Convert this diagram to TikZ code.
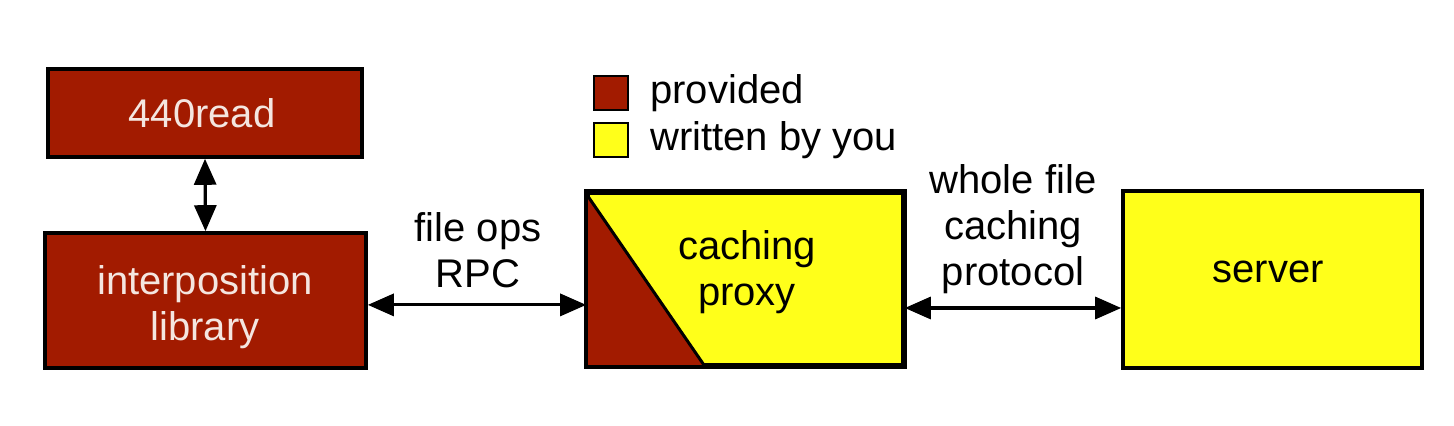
\documentclass[tikz,border=0pt]{standalone}
\usepackage{fontspec}
\setmainfont{Liberation Sans}
\usetikzlibrary{arrows.meta,calc}
\definecolor{provred}{HTML}{A21B00}
\definecolor{youyellow}{HTML}{FFFF1A}
\definecolor{lighttext}{HTML}{F4E6E0}
\begin{document}
\begin{tikzpicture}[x=0.5pt,y=-0.5pt,
  box/.style={draw=black,line width=1.8pt,inner sep=0pt},
  redbox/.style={box,fill=provred},
  yelbox/.style={box,fill=youyellow},
  lbl/.style={font=\fontsize{20}{23}\selectfont,align=center,inner sep=0pt},
  arr/.style={line width=1.6pt,{Triangle[length=13pt,width=11pt]}-{Triangle[length=13pt,width=11pt]}},
  legsq/.style={draw=black,line width=1.3pt,minimum width=17pt,minimum height=17pt,inner sep=0pt}]
\useasboundingbox (0,0) rectangle (1454,426);
% boxes
\node[redbox,minimum width=157pt,minimum height=44pt] (read) at (205,113) {};
\node[lbl,text=lighttext] (readt) at (202,113) {440read};
\node[redbox,minimum width=160.5pt,minimum height=67.5pt] (lib) at (205.5,300.5) {};
\node[lbl,text=lighttext] (libt) at (205,307) {interposition\\library};
\node[yelbox,minimum width=157.5pt,minimum height=86pt] (proxy) at (745.5,279) {};
\fill[provred] ([shift={(1,4)}]proxy.north west) -- (proxy.south west) -- ($(proxy.south west)+(119,0)$) -- cycle;
\draw[line width=1.5pt] ([shift={(1,4)}]proxy.north west) -- ($(proxy.south west)+(119,0)$);
\draw[line width=1.8pt] (proxy.north west) rectangle (proxy.south east);
\node[lbl] (proxyt) at (747,272) {caching\\proxy};
\node[yelbox,minimum width=149.5pt,minimum height=88.5pt] (server) at (1272.5,279.5) {};
\node[lbl] (servert) at (1268,272) {server};
% legend
\node[legsq,fill=provred] (leg1) at (611,93) {};
\node[legsq,fill=youyellow] (leg2) at (611,140) {};
\node[lbl,anchor=west] (leg1t) at (650,93) {provided};
\node[lbl,anchor=west] (leg2t) at (650,140) {written by you};
% connectors
\draw[arr] (read.south) -- (lib.north);
\draw[arr] ([yshift=-2.2pt]lib.east) -- ([yshift=-2.2pt]lib.east -| proxy.west);
\node[lbl] (rpc) at (478,250) {file ops\\RPC};
\draw[arr] ([yshift=-14.5pt]proxy.east) -- ([yshift=-14.5pt]proxy.east -| server.west);
\node[lbl] (proto) at (1013,229) {whole file\\caching\\protocol};
\end{tikzpicture}
\end{document}
